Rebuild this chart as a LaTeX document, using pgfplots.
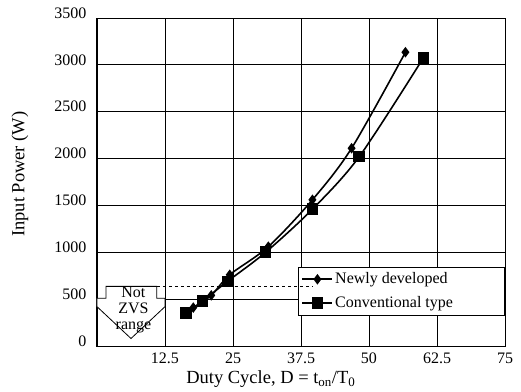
\documentclass[border=0pt]{standalone}
\usepackage{pgfplots}
\pgfplotsset{compat=1.18}
\usepackage{fontspec}
\setmainfont{Liberation Serif}
\begin{document}
\fontsize{16bp}{18bp}\selectfont
\begin{tikzpicture}
\useasboundingbox (-97bp,-46bp) rectangle (424bp,346bp);
\begin{axis}[
 scale only axis, width=408bp, height=328bp,
 xmin=0, xmax=75, ymin=0, ymax=3500,
 xtick={0,12.5,25,37.5,50,62.5,75},
 xticklabels={,12.5,25,37.5,50,62.5,75},
 ytick={0,500,1000,1500,2000,2500,3000,3500},
 /pgf/number format/1000 sep={},
 /pgf/number format/assume math mode=true,
 grid=major, major grid style={black, line width=0.8bp},
 axis line style={black, line width=1bp},
 major tick length=0pt,
 tick label style={font=\fontsize{16bp}{18bp}\selectfont},
 yticklabel style={anchor=east, xshift=-5bp, yshift=5bp},
 xticklabel style={anchor=north, yshift=-1bp},
 xlabel={Duty Cycle, D = t\textsubscript{on}/T\textsubscript{0}},
 ylabel={Input Power (W)},
 label style={font=\fontsize{18.5bp}{20bp}\selectfont},
 xlabel style={at={(axis description cs:0.426,0)}, anchor=center, yshift=-33bp},
 ylabel style={at={(axis description cs:-0.189,0.524)}, anchor=center},
 legend style={at={(rel axis cs:0.492,0.242)}, anchor=north west, draw=black, line width=0.8bp, fill=white, inner sep=3.5bp, row sep=6bp, font=\fontsize{16bp}{18bp}\selectfont},
 legend cell align=left,
 legend image code/.code={\draw[#1, mark repeat=2, mark phase=2] plot coordinates {(0bp,0bp) (15bp,0bp) (30bp,0bp)};},
]
\filldraw[fill=white, draw=black, line width=0.8bp]
  (axis cs:1.65,636) -- (axis cs:11,636) -- (axis cs:11,510) -- (axis cs:12.5,510) -- (axis cs:12.5,420)
  -- (axis cs:6.25,80) -- (axis cs:0,420) -- (axis cs:0,510) -- (axis cs:1.65,510) -- cycle;
\node[align=center, font=\fontsize{16bp}{16bp}\selectfont] at (axis cs:6.7,385) {Not\\ZVS\\range};
\coordinate (d1) at (axis cs:11,636);
\coordinate (d2) at (axis cs:39.7,636);
\addplot[black, line width=1.6bp, smooth, mark=diamond*, mark size=4bp, mark options={solid}]
 coordinates {(17.7,410) (21,540) (24.4,760) (31.5,1060) (39.6,1560) (46.8,2110) (56.7,3135)};
\addlegendentry{\makebox[164bp][l]{Newly developed}}
\addplot[black, line width=1.6bp, smooth, mark=square*, mark size=5bp, mark options={solid}]
 coordinates {(16.4,350) (19.4,480) (24,690) (31,1000) (39.6,1460) (48.2,2020) (60,3075)};
\addlegendentry{\makebox[164bp][l]{Conventional type}}
\end{axis}
\draw[dashed, line width=0.8bp] (d1) -- (d2);
\end{tikzpicture}
\end{document}
